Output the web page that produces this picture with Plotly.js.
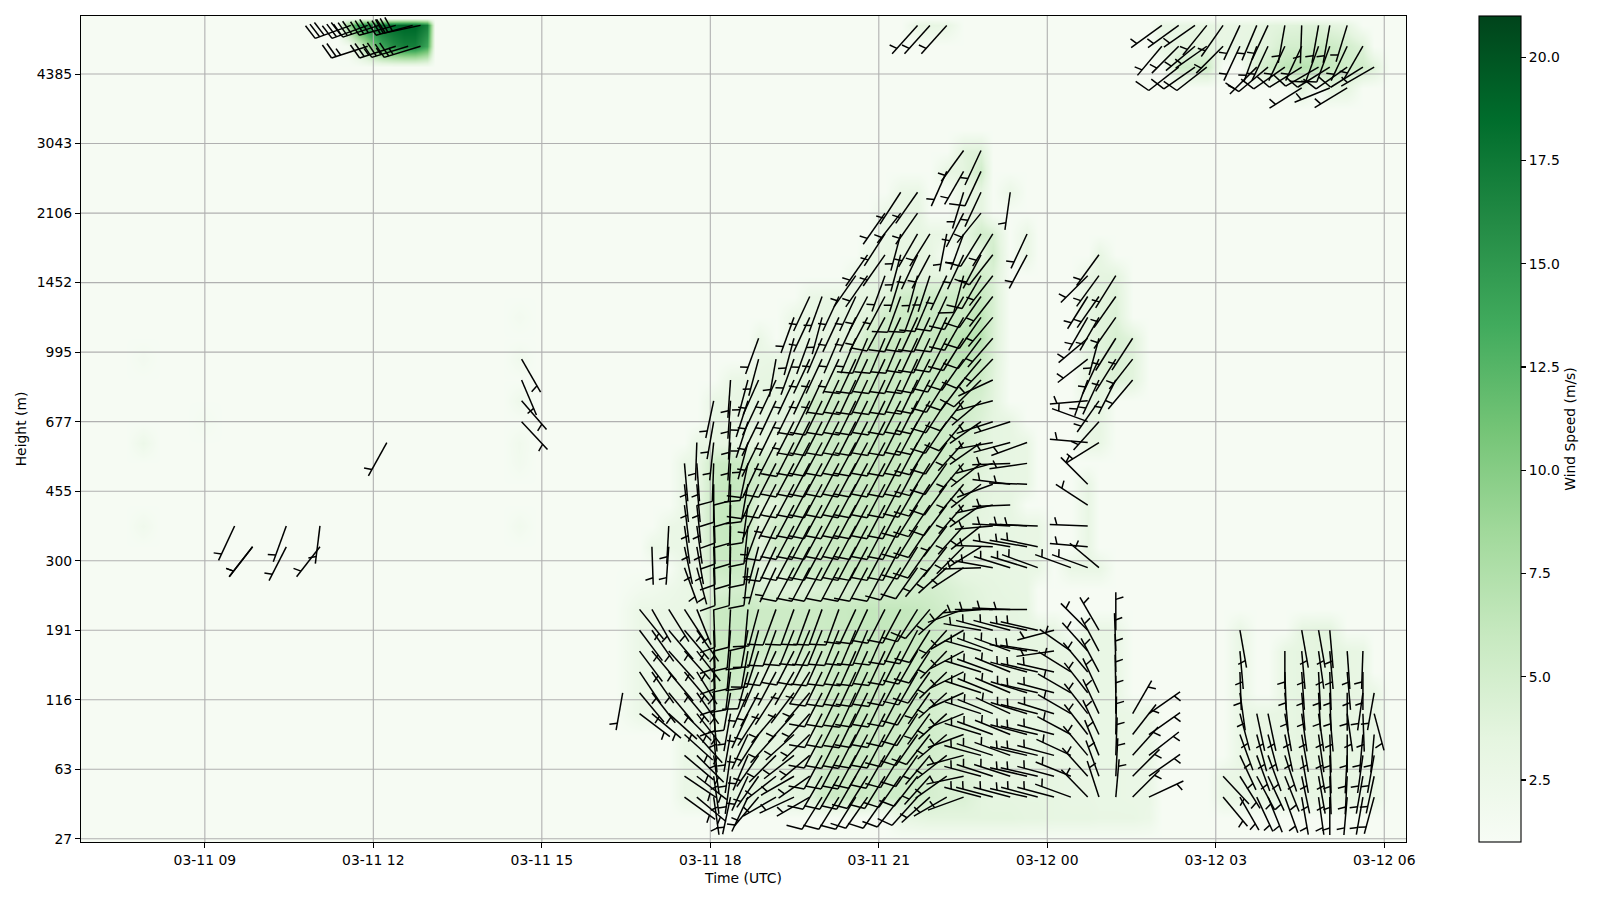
<!DOCTYPE html>
<html><head><meta charset="utf-8">
<script src="https://cdn.plot.ly/plotly-3.0.1.min.js"></script>
<style>html,body{margin:0;padding:0;background:#fff}</style></head>
<body><div id="chart" style="width:1600px;height:900px"></div>
<script>
// ---------- axis labels ----------
const heightTickGates=[0,10,20,30,40,50,60,70,80,90,100,110];
const heightTickLabels=['27','63','116','191','300','455','677','995','1452','2106','3043','4385'];
const timeTickHours=[9,12,15,18,21,24,27,30];
const colorTicks=[2.5,5,7.5,10,12.5,15,17.5,20];
// ---------- barb columns: hours since 03-11 00 UTC ----------
const colHours=[16.74,16.96,17.26,17.54,17.76,18.06,18.36,18.67,18.86,19.17,19.49,19.77,19.99,20.29,20.59,20.80,21.11,21.39,21.69,21.91,22.21,22.51,22.82,23.03,23.34,23.64,23.83,24.12,24.42,24.72,24.92,25.22,25.52,25.81,26.04,26.34,26.63,26.84,27.13,27.43,27.73,27.93,28.23,28.53,28.83,29.03,29.34,29.62,29.82];
// ---------- wind direction (deg, from) and speed (m/s) per height gate ----------
const dir6=[126,130,172,192,205,220,240,245,240,212,212,212,215,215,218,222,228,240,250,285,285,285,283,285,285,290,316,342,5,45,65,null,null,null,null,140,150,155,158,160,170,172,180,185,190,195];
const spd6=[2.8,2.9,3.2,3.4,3.4,3.6,3.6,3.6,3.8,5.4,5.6,5.6,5.4,5.4,5.4,5.2,4.8,4.4,4.4,3.6,3.4,3.4,3.3,3.3,3.2,3,3,2.9,2.9,2.8,2.8,null,null,null,null,2.8,2.9,2.9,3,3,3.1,3.2,3.2,3.2,3,2.9];
const dir9=[124,128,172,188,205,215,232,240,235,210,210,210,212,212,215,218,222,235,258,285,288,288,283,283,285,292,318,340,3,45,55,null,null,null,null,137,148,152,155,158,168,170,178,183,190,192];
const spd9=[2.8,2.9,3.2,3.4,3.4,3.6,3.6,3.6,3.8,5.4,5.6,5.6,5.4,5.4,5.4,5.2,4.8,4.4,4.4,3.6,3.4,3.4,3.3,3.3,3.2,3,3,2.9,2.9,2.8,2.8,null,null,null,null,2.8,2.9,3,3,3.1,3.2,3.4,3.4,3.2,3,2.9];
const dir12=[130,135,172,188,203,215,225,232,230,208,208,208,210,210,212,215,220,232,255,285,288,290,283,283,285,295,320,338,2,42,52,null,null,null,null,null,155,160,160,162,170,170,178,183,188,190];
const spd12=[2.8,2.9,3.2,3.4,3.4,3.6,3.6,3.6,3.8,5.4,5.6,5.6,5.6,5.4,5.4,5.2,5,4.6,4.4,3.6,3.4,3.4,3.3,3.3,3.2,3,3,2.9,2.9,2.8,2.8,null,null,null,null,null,2.9,3,3,3.2,3.4,3.6,3.6,3.2,3,2.9];
const dir15=[132,138,175,190,205,213,222,228,226,208,207,207,208,208,212,215,218,230,250,287,290,292,285,283,285,298,322,335,1,38,55,null,null,null,null,null,160,165,165,168,170,172,178,180,185,185];
const spd15=[2.8,2.9,3.3,3.4,3.4,3.6,3.6,3.6,3.8,5.4,5.8,5.8,5.6,5.6,5.4,5.4,5.2,4.8,4.4,3.6,3.4,3.4,3.3,3.3,3.2,3,3,2.9,2.9,2.8,2.8,null,null,null,null,null,2.9,3,3,3.2,3.4,3.6,3.6,3.2,3,2.9];
const dir18=[127,130,132,135,142,175,190,205,213,220,222,222,207,207,206,207,207,210,213,216,228,248,288,292,295,287,284,287,300,322,335,0,30,55,null,null,null,null,null,165,168,168,170,172,172,175,172,178,165];
const spd18=[2.7,2.7,2.8,2.9,3,3.4,3.4,3.4,3.6,3.6,3.6,3.8,5.4,5.8,6,5.8,5.6,5.6,5.4,5,4.6,3.8,3.6,3.4,3.4,3.3,3.3,3.2,3,3,2.9,2.9,2.8,2.8,null,null,null,null,null,2.9,3,3,3.2,3.4,3.6,3.6,3.2,3,2.9];
const dir21=[140,142,140,140,145,178,190,203,208,213,217,220,207,206,205,206,206,208,212,215,228,246,288,292,293,287,283,285,300,322,335,359,null,null,null,null,null,null,null,172,null,null,175,175,177,178,180,188,190];
const spd21=[2.7,2.7,2.8,2.9,3,5.3,5.4,3.6,3.6,3.8,4,4.2,5.4,5.8,6,6,5.8,5.6,5.4,5,4.6,3.8,3.6,3.4,3.4,3.3,3.3,3.2,3,3,2.9,2.9,null,null,null,null,null,null,null,2.9,null,null,3.2,3.4,3.6,3.6,3.2,3,2.9];
const dir24=[146,145,140,140,148,178,187,195,203,208,210,212,206,205,205,205,205,208,210,215,226,244,287,290,292,285,283,283,302,320,332,359,null,null,null,null,null,null,null,178,null,null,178,176,177,178,175,180];
const spd24=[2.7,2.7,2.8,2.9,3,5.4,5.6,5.4,3.8,3.8,4,4.4,5.4,5.8,6,6,5.8,5.6,5.6,5.2,4.8,3.8,3.6,3.4,3.4,3.3,3.3,3.2,3,3,2.9,2.9,null,null,null,null,null,null,null,2.9,null,null,3.2,3.4,3.6,3.6,3.2,3];
const dir27=[143,140,138,138,142,178,185,190,198,205,207,207,204,204,204,204,205,207,210,213,224,242,286,290,290,280,279,262,305,318,332,358,null,null,null,null,null,null,null,175,null,null,180,175,172,175,176,182];
const spd27=[2.7,2.7,2.8,2.9,3,5.6,5.8,5.4,5.3,5.3,5.3,5.3,5.4,5.8,6,6,6,5.8,5.8,5.4,5,3.8,3.6,3.4,3.4,3.3,3.3,3.2,3,3,2.9,2.9,null,null,null,null,null,null,null,2.9,null,null,3.2,3.4,3.6,3.6,3.2,3];
const dir30=[143,145,140,140,145,178,185,190,195,200,202,203,202,202,203,203,204,206,208,212,222,240,280,285,285,282,283,255,null,315,330,0,null,null,null,null,null,null,null,170,null,null,null,170,170,175];
const spd30=[2.7,2.7,2.8,2.9,3,5.6,5.8,5.8,5.5,5.5,5.5,5.6,5.6,5.8,6,6.2,6.2,6,6,5.6,5,4,3.6,3.4,3.4,3.3,3.3,3.2,null,3,2.9,2.9,null,null,null,null,null,null,null,2.9,null,null,null,3.4,3.6,3.6];
const dir33=[141,150,148,147,158,178,183,185,195,200,200,200,200,200,205,205,207,208,212,220,228,250,265,270,272,270];
const spd33=[2.7,2.7,2.8,2.9,3,5.6,5.8,5.8,5.5,5.5,5.5,5.6,5.6,5.8,6,6.2,6.2,6.2,6,5.6,5,4.2,3.8,3.4,3.4,3.2];
const gap36=[1.8,2,2.4,2.8,3,4.2,4.8,5,4.4,4,4,4.2,4.6,4.6,4.8,5,5,5,5,5,4.6,4,3.6,3.4,3.2,3];
const gap3=[3,3.4,3.6,3.6,3.6,3.6,3.6,3.6,3.4,3.4,3.2,3.2,3.2,3,3,3,2.6];
const dir39=[160,165,178,182,186,195,205,208,208,208,208,208,208,208,212,215,220,228,237,268,280,287,287,290,null,290,290,310];
const spd39=[2.9,3,5.4,5.8,5.4,3.6,3.8,5.3,5.4,5.6,5.8,6,5.8,5.6,5.4,5.2,5,3.8,3.2,3.2,3.2,3,3,3,null,2.9,3,3];
const dir42=[178,184,168,170,178,181,186,195,205,208,208,208,208,208,208,208,208,212,215,218,225,238,272,280,280,282,null,null,275];
const spd42=[2.7,2.7,2.9,3,5.6,6,5.6,3.6,5.3,5.3,5.4,5.6,5.8,6,5.8,5.8,5.6,5.4,5.2,5,4.2,3.4,3.2,3.2,3,3,null,null,3];
const dir45=[183,172,172,178,181,186,200,205,208,208,208,208,208,208,208,208,212,214,217,222,232,265,273,273,272,null,null,272];
const spd45=[2.7,2.9,3,5.8,6.2,5.6,3.8,5.3,5.3,5.4,5.6,5.8,6,5.8,5.8,5.6,5.4,5.2,5,4.4,3.4,3.2,3.2,3,3,null,null,3];
const dir48=[173,174,178,181,188,205,207,208,208,208,208,208,208,208,208,212,214,217,221,235,258,268,null,null,null,null,303];
const spd48=[2.9,3,5.8,6.2,5.6,3.8,3.8,5.3,5.4,5.6,5.8,5.8,6,6,5.8,5.6,5.4,5.2,4.8,3.6,3.2,3.2,null,null,null,null,3];
const dir51=[174,175,180,181,190,205,207,208,208,208,208,208,208,208,208,210,213,216,220,232,250,277,272,null,null,null,315];
const spd51=[2.9,3,5.6,6.2,5.6,5.3,5.3,5.3,5.4,5.6,5.8,5.8,6,6,5.8,5.6,5.4,5.4,4.8,3.6,3.4,3.2,3,null,null,null,3];
const dir54=[175,176,182,183,192,205,207,208,208,208,208,208,208,208,208,208,212,215,220,232,255,268,262];
const spd54=[2.9,3,5.4,5.8,5.4,5.3,5.3,5.3,5.4,5.6,5.8,5.8,6,6,5.8,5.6,5.4,5.4,5,4,3.4,3.2,3];
const dir57=[182,186,184,195,206,207,207,208,208,208,208,208,208,208,208,212,214,222,235,260,255,250,null,null,null,275,238];
const spd57=[2.9,3,3.2,3.4,3.4,3.6,5.3,5.4,5.6,5.8,5.8,6,6,5.8,5.6,5.6,5.4,5,4,3.4,3.2,3,null,null,null,3,3];
const dir60=[190,183,198,206,206,207,207,207,207,207,207,207,207,208,210,214,220,235,252,252,null,null,null,null,290,222];
const spd60=[2.9,3.2,3.4,3.4,3.6,3.6,5.3,5.4,5.6,5.8,6,6,5.8,5.6,5.6,5.4,5.2,4.2,3.4,3.2,null,null,null,null,3,3.2];
const dir63=[192,184,198,205,205,206,206,206,206,206,206,206,207,207,210,213,218,230,255,null,null,null,null,null,265,215];
const spd63=[2.9,3,3.2,3.4,3.6,3.6,5.3,5.4,5.6,5.8,6,5.8,5.6,5.6,5.8,5.6,5.4,4.6,3.6,null,null,null,null,null,3,3.4];
const dir66=[184,195,204,205,205,205,205,205,205,205,205,205,206,208,212,217,225,245,null,null,null,null,null,200,205,207,220];
const spd66=[2.8,3,3.2,3.4,3.6,3.8,3.8,5.3,5.4,5.6,5.8,5.6,5.6,5.8,5.8,5.8,5.4,3.8,null,null,null,null,null,3.4,3.8,4.2,3.6];
const dir69=[195,190,200,205,205,205,205,205,205,205,205,207,210,215,220,224,null,null,null,null,null,232,205,212,218];
const spd69=[2.8,3,3.2,3.4,3.6,3.6,5.3,5.6,5.8,5.6,5.6,5.8,6.2,6.6,6,4.2,null,null,null,null,null,3.2,3.8,4.4,3.8];
const dir72=[200,null,195,200,203,203,203,203,203,203,205,205,207,212,217,221,null,null,null,null,null,230,195,212,213];
const spd72=[2.8,null,2.9,3.2,3.4,3.6,3.8,5.3,5.6,6,5.6,5.8,6.4,6.8,7,4.4,null,null,null,null,null,3.2,3.8,4.6,3.8];
const dir75=[200,205,195,205,205,208,208,205,205,205,205,210,215,220,null,null,null,null,null,210,210,215];
const spd75=[2.8,3,3.2,3.4,3.6,3.8,5.3,5.6,5.8,5.6,5.4,5.8,6.6,4.6,null,null,null,null,null,3.2,3.8,4.2];
const dir78=[205,200,205,205,208,208,200,200,203,205,210,215,218,null,null,null,null,null,212,215,215];
const spd78=[2.8,2.9,3,3.2,3.4,3.8,5.3,5.6,5.4,5.4,5.6,6,4.6,null,null,null,null,null,3.2,3.6,4];
const dir81=[215,215,200,197,195,198,205,195,210,218,null,null,null,null,null,225,216,212];
const spd81=[2.8,3,3.2,3.4,3.4,3.6,3.4,5.3,5.4,4.2,null,null,null,null,null,3,3.4,3.6];
const dir84=[215,215,195,205,208,null,205,208,218,null,208,null,null,null,null,216];
const spd84=[2.8,3,3.2,3.4,3.2,null,3,3.2,5.2,null,2.9,null,null,null,null,3.2];
const dir87=[213,195,210,212,191,200,212,212,null,205];
const spd87=[2.8,3,3.2,3,3,3.2,5.2,4.6,null,2.9];
const dir90=[215,218,215,null,null,207,219];
const spd90=[2.8,3,3.2,null,null,3,3.4];
const dir93=[213,215,null,null,197,205,null,188];
const spd93=[2.8,2.9,null,null,3,3.4,null,2.8];
const dir96=[204,210,205];
const spd96=[3.2,3.6,5.2];
const dir99=[216,205];
const spd99=[3.8,4];
const dir108=[238,null,248,239];
const spd108=[3.8,null,3.6,3.4];
const dir111=[232,235,232,null,null,225,230,235,238,240,238,235,238,240];
const spd111=[5.2,5.4,5.6,null,null,4.4,5.4,6.6,7,6.8,6,5.2,5.2,4];
const dir114=[220,225,230,235,225,205,200,205,205,205,200,200,205,210];
const spd114=[3,3.2,3.6,3.4,3,3.2,3.6,3.8,5,5,5.6,5.6,5,4];
const dir117=[234,234,235,219,215,205,203,205,190,182,190,190,197];
const spd117=[2.9,3,3.2,3.2,3,3,3.2,3.6,3.8,4,4,3.6,3.2];
const dir117b=[222,222,222];
const spd117b=[3,3.2,3];
// ---------- strong jet at the top left ----------
const jetHours117=[11.60,11.90,12.10,12.40,12.70,12.84];
const jetDir117=[250,250,252,255,255,258];
const jetSpd117=[17,17,18,18,18,18];
const jetHours114=[11.90,12.40,12.62,12.84];
const jetDir114=[252,252,253,253];
const jetSpd114=[13,14,14,13];
const jetHeatHours=[11.35,11.55,11.75,11.95,12.15,12.35,12.55,12.75,12.95,13.1];
const jetHeat117=[1.2,9,15,17,18,18.5,19,19,17,1.2];
const jetHeat114=[1.2,1.6,5,10,14,16,17,17,14,1.2];
// ---------- isolated barbs ----------
const soloHours=[9.53,9.85,10.45,11.05,9.85,10.45,11.05,12.24,14.64,14.64,14.64,14.64,16.44];
const soloGates=[45,42,45,45,42,42,42,57,69,66,63,60,21];
const soloDir=[205,218,200,187,218,207,218,209,150,157,139,137,190];
const soloSpd=[3,3,3.2,3.2,3,3,3.2,3,3,3.2,3.2,3,2.9];
// faint echoes with no barb
const faintHours=[7.90,7.90,7.90,9.0,14.6,14.6,14.6,14.6,14.6,14.6];
const faintGates=[57,45,69,60,75,69,63,57,54,45];
const faintSpd=[2.4,2.0,1.7,1.6,1.7,2,2.2,2,1.8,1.9];
// ---------- which rows exist: [gate, first column, dirs, speeds] ----------
const rows=[[6,3,dir6,spd6],[9,3,dir9,spd9],[12,3,dir12,spd12],[15,3,dir15,spd15],[18,0,dir18,spd18],[21,0,dir21,spd21],[24,0,dir24,spd24],[27,0,dir27,spd27],[30,0,dir30,spd30],[33,0,dir33,spd33],[39,3,dir39,spd39],[42,1,dir42,spd42],[45,2,dir45,spd45],[48,3,dir48,spd48],[51,3,dir51,spd51],[54,3,dir54,spd54],[57,4,dir57,spd57],[60,5,dir60,spd60],[63,5,dir63,spd63],[66,6,dir66,spd66],[69,8,dir69,spd69],[72,8,dir72,spd72],[75,10,dir75,spd75],[78,11,dir78,spd78],[81,14,dir81,spd81],[84,15,dir84,spd84],[87,16,dir87,spd87],[90,16,dir90,spd90],[93,17,dir93,spd93],[96,20,dir96,spd96],[99,21,dir99,spd99],[108,43,dir108,spd108],[111,35,dir111,spd111],[114,34,dir114,spd114],[117,34,dir117,spd117],[117,18,dir117b,spd117b]];

// ---------- layout geometry ----------
const W=1600,H=900,mL=80.5,mR=194,mT=16.3,mB=58;
const xRange=[6.795,30.387],yRange=[-0.46,118.35];
const pxH=(W-mL-mR)/(xRange[1]-xRange[0]);
const pxG=(H-mT-mB)/(yRange[1]-yRange[0]);
const toDate=h=>new Date(Date.UTC(2025,2,11)+h*3600000).toISOString().replace('Z','');

// ---------- list of barbs ----------
const gridBarbs=[];
rows.forEach(([g,s,d,v])=>d.forEach((a,i)=>{if(a!==null)gridBarbs.push([colHours[s+i],g,a,v[i]]);}));
const barbs=gridBarbs.slice();
jetHours117.forEach((h,i)=>barbs.push([h,117,jetDir117[i],jetSpd117[i]]));
jetHours114.forEach((h,i)=>barbs.push([h,114,jetDir114[i],jetSpd114[i]]));
soloHours.forEach((h,i)=>barbs.push([h,soloGates[i],soloDir[i],soloSpd[i]]));

// ---------- barb geometry (same proportions as matplotlib's barbs) ----------
const L=38,FULL=0.4*L,WID=0.25*L,SP=0.125*L;
const bx=[],by=[];
function seg(h,g,p0,p1){
  bx.push(toDate(h+p0[0]/pxH),toDate(h+p1[0]/pxH),null);
  by.push(g+p0[1]/pxG,g+p1[1]/pxG,null);
}
barbs.forEach(([h,g,d,v])=>{
  const a=Math.sin(d*Math.PI/180),b=Math.cos(d*Math.PI/180);
  const P=(along,side)=>[a*along+b*side,b*along-a*side];
  seg(h,g,[0,0],P(L,0));
  let kt=Math.floor(v*1.94384/5)*5,off=L;
  const nFull=Math.floor(kt/10),half=kt%10>=5;
  for(let i=0;i<nFull;i++){seg(h,g,P(off,0),P(off+WID/2,FULL));off-=SP;}
  if(half){if(off===L)off-=1.5*SP;seg(h,g,P(off,0),P(off+WID/4,FULL/2));}
});

// ---------- heat grid built from the same values ----------
const hs=new Set(colHours);
[jetHeatHours,faintHours,[6.3,7.6,8.2,8.7,9.3,14.3,14.9,16.3,30.1,30.9]].forEach(arr=>arr.forEach(x=>hs.add(x)));
const heatHours=[...hs].sort((p,q)=>p-q);
const heatGates=[-3];for(let g=0;g<=117;g+=3)heatGates.push(g);heatGates.push(118,122);
const z=heatGates.map(()=>heatHours.map(()=>1.2));
const put=(h,g,v)=>{const r=heatGates.indexOf(g),c=heatHours.indexOf(h);if(r>=0&&c>=0&&v!==null)z[r][c]=v;};
gridBarbs.forEach(([h,g,d,v])=>put(h,g,v));
gap36.forEach((v,i)=>put(colHours[i],36,v));
gap3.forEach((v,i)=>put(colHours[17+i],3,v));
faintHours.forEach((h,i)=>put(h,faintGates[i],faintSpd[i]));
jetHeatHours.forEach((h,i)=>{put(h,117,jetHeat117[i]);put(h,114,jetHeat114[i]);});

// ---------- gridlines above the heat map, below the barbs ----------
const gx=[],gy=[];
timeTickHours.forEach(h=>{gx.push(toDate(h),toDate(h),null);gy.push(yRange[0],yRange[1],null);});
heightTickGates.forEach(g=>{gx.push(toDate(xRange[0]),toDate(xRange[1]),null);gy.push(g,g,null);});

const font={family:'"DejaVu Sans",sans-serif',size:13.9,color:'#000'};
const traces=[
 {type:'heatmap',x:heatHours.map(toDate),y:heatGates,z:z,zmin:1,zmax:21,zsmooth:'best',hoverinfo:'skip',
  colorscale:[[0,'#f7fcf5'],[0.125,'#e5f5e0'],[0.25,'#c7e9c0'],[0.375,'#a1d99b'],[0.5,'#74c476'],[0.625,'#41ab5d'],[0.75,'#238b45'],[0.875,'#006d2c'],[1,'#00441b']],
  colorbar:{x:1.0551,xanchor:'left',xpad:0,ypad:0,y:0.5,yanchor:'middle',len:1,thickness:42,outlinecolor:'#000',outlinewidth:1.1,
    tickmode:'array',tickvals:colorTicks,ticktext:colorTicks.map(v=>v.toFixed(1)),ticks:'outside',ticklen:5,tickwidth:1.1,tickcolor:'#000',tickfont:font,
    title:{text:'Wind Speed (m/s)',side:'right',font:font}}},
 {type:'scatter',mode:'lines',x:gx,y:gy,line:{color:'#b0b0b0',width:1.1},hoverinfo:'skip',showlegend:false},
 {type:'scatter',mode:'lines',x:bx,y:by,line:{color:'#000',width:1.5},hoverinfo:'skip',showlegend:false,connectgaps:false}
];
const layout={width:W,height:H,margin:{l:mL,r:mR,t:mT,b:mB,pad:0},paper_bgcolor:'#fff',plot_bgcolor:'#fff',font:font,showlegend:false,
 xaxis:{type:'date',range:[toDate(xRange[0]),toDate(xRange[1])],tickmode:'array',tickvals:timeTickHours.map(toDate),ticktext:['03-11 09','03-11 12','03-11 15','03-11 18','03-11 21','03-12 00','03-12 03','03-12 06'],
   ticks:'outside',ticklen:5,tickwidth:1.1,tickcolor:'#000',showgrid:false,zeroline:false,showline:true,mirror:true,linecolor:'#000',linewidth:1.1,tickfont:font,
   title:{text:'Time (UTC)',font:font,standoff:6},layer:'above traces'},
 yaxis:{range:yRange,tickmode:'array',tickvals:heightTickGates,ticktext:heightTickLabels,ticks:'outside',ticklen:5,tickwidth:1.1,tickcolor:'#000',showgrid:false,zeroline:false,showline:true,mirror:true,linecolor:'#000',linewidth:1.1,tickfont:font,
   title:{text:'Height (m)',font:font,standoff:6},layer:'above traces'}
};
Plotly.newPlot('chart',traces,layout,{displayModeBar:false,staticPlot:true});
</script></body></html>
